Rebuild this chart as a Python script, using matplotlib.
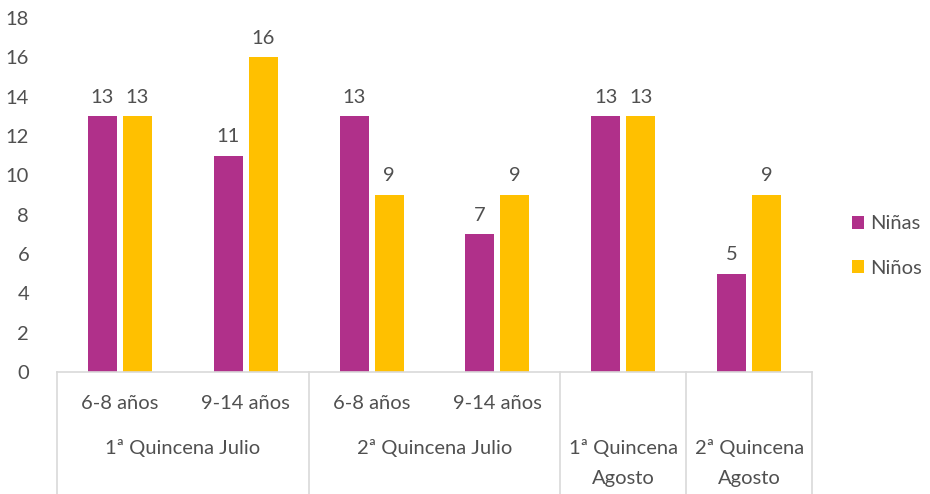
import matplotlib.pyplot as plt
import matplotlib.transforms as mtransforms

plt.rcParams['font.family'] = ['Lato', 'DejaVu Sans']

# ==============================================================
# DATOS
# ==============================================================

subcategorias = ['6-8 años', '9-14 años', '6-8 años', '9-14 años', '', '']
grupos = ['1ª Quincena Julio', '2ª Quincena Julio', '1ª Quincena\nAgosto', '2ª Quincena\nAgosto']
grupo_tamanos = [2, 2, 1, 1]

ninas = [13, 11, 13, 7, 13, 5]
ninos = [13, 16, 9, 9, 13, 9]

series = ['Niñas', 'Niños']
colores = ['#B0308A', '#FFC000']
gris = '#505050'
linea = '#D9D9D9'
fs = 14.5

# ==============================================================
# GRÁFICO BARRA
# ==============================================================

fig = plt.figure(figsize=(9.3, 4.94), dpi=100)
ax = fig.add_axes([57 / 930, 122 / 494, 755 / 930, 354 / 494])

x = list(range(len(ninas)))
ancho = 0.23
desp = 0.139

for valores, signo, color, nombre in zip([ninas, ninos], [-1, 1], colores, series):
    pos = [i + signo * desp for i in x]
    ax.bar(pos, valores, width=ancho, color=color, label=nombre)
    for xi, v in zip(pos, valores):
        ax.text(xi, v + 0.55, str(v), ha='center', va='bottom', fontsize=fs, color=gris)

ax.set_xlim(-0.5, len(ninas) - 0.5)
ax.set_ylim(0, 18)
ax.set_yticks(range(0, 19, 2))
ax.tick_params(axis='y', length=0, labelsize=fs, labelcolor=gris, pad=20)
ax.set_xticks([])

for s in ['top', 'right', 'left']:
    ax.spines[s].set_visible(False)
ax.spines['bottom'].set_color(linea)
ax.spines['bottom'].set_linewidth(1.2)

trans = mtransforms.blended_transform_factory(ax.transData, ax.transAxes)

# etiquetas de subcategoría
for xi, etiqueta in zip(x, subcategorias):
    if etiqueta:
        ax.text(xi, -0.088, etiqueta, transform=trans, ha='center', va='center',
                fontsize=fs, color=gris)

# etiquetas de grupo y separadores
inicio = -0.5
ax.plot([inicio, inicio], [0, -0.345], transform=trans, color=linea, lw=1.2, clip_on=False)
for nombre, n in zip(grupos, grupo_tamanos):
    centro = inicio + n / 2
    if '\n' in nombre:
        l1, l2 = nombre.split('\n')
        ax.text(centro, -0.215, l1, transform=trans, ha='center', va='center',
                fontsize=fs, color=gris)
        ax.text(centro, -0.30, l2, transform=trans, ha='center', va='center',
                fontsize=fs, color=gris)
    else:
        ax.text(centro, -0.215, nombre, transform=trans, ha='center', va='center',
                fontsize=fs, color=gris)
    inicio += n
    ax.plot([inicio, inicio], [0, -0.345], transform=trans, color=linea, lw=1.2, clip_on=False)

fig.legend(loc='center left', bbox_to_anchor=(852 / 930, 248 / 494), frameon=False,
           fontsize=fs, labelcolor=gris, handlelength=0.6, handleheight=0.6,
           handletextpad=0.3, labelspacing=1.35, borderpad=0, borderaxespad=0)

fig.savefig('out.png', dpi=100)
